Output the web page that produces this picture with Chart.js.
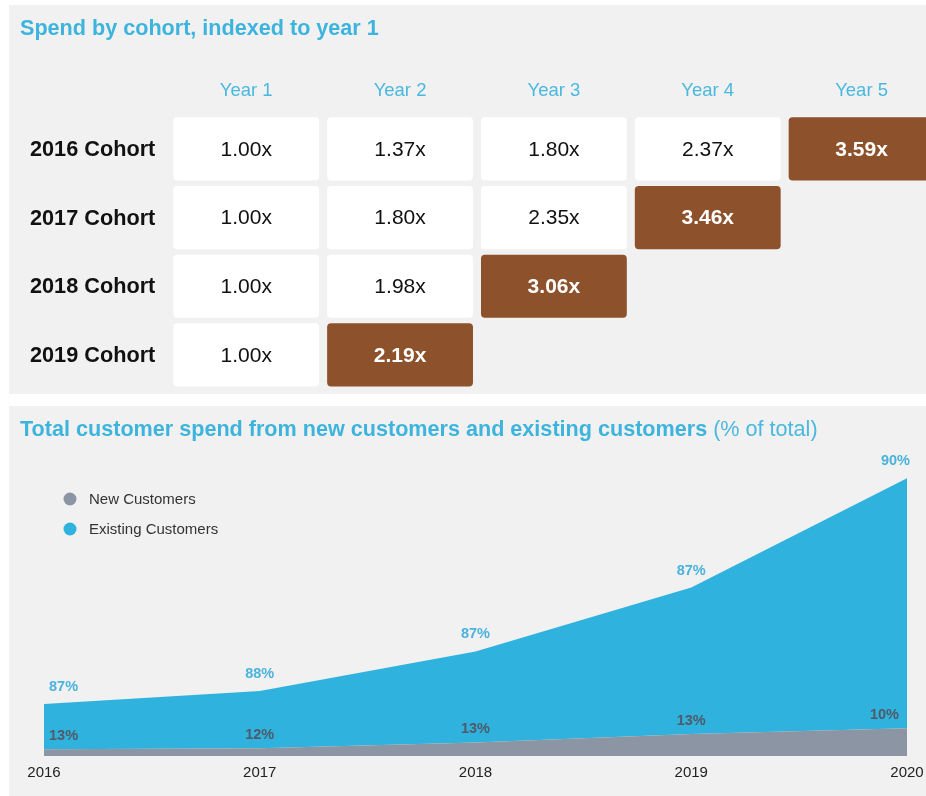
<!DOCTYPE html>
<html>
<head>
<meta charset="utf-8">
<title>Customer cohorts</title>
<script src="https://cdn.jsdelivr.net/npm/chart.js@4"></script>
<style>
  html, body { margin: 0; padding: 0; background: #ffffff; overflow: hidden; width: 926px; height: 796px; }
  .panel { position: absolute; background: #f1f1f1; }
  #cohortPanel { left: 9px; top: 5px; width: 940px; height: 389px; }
  #spendPanel { left: 9px; top: 406px; width: 917px; height: 390px; }
  canvas { display: block; }
</style>
</head>
<body>
<div class="panel" id="cohortPanel"><canvas id="cohortChart" width="940" height="389"></canvas></div>
<div class="panel" id="spendPanel"><canvas id="spendChart" width="917" height="390"></canvas></div>
<script>
// ---- Cohort table data ----
const cohortLabels = ['2016 Cohort', '2017 Cohort', '2018 Cohort', '2019 Cohort'];
const yearLabels = ['Year 1', 'Year 2', 'Year 3', 'Year 4', 'Year 5'];
const cohort2016 = [1.00, 1.37, 1.80, 2.37, 3.59];
const cohort2017 = [1.00, 1.80, 2.35, 3.46];
const cohort2018 = [1.00, 1.98, 3.06];
const cohort2019 = [1.00, 2.19];

// ---- Spend mix data ----
const spendYears = ['2016', '2017', '2018', '2019', '2020'];
const totalSpendIndex = [1.00, 1.25, 2.01, 3.24, 5.34];
const newCustomerShare = [13, 12, 13, 13, 10];
const existingCustomerShare = [87, 88, 87, 87, 90];

const FONT = '"Liberation Sans", Arial, Helvetica, sans-serif';
const BLUE_TEXT = '#3db4dd';
const BROWN = '#8d512b';

// ---------- Cohort table ----------
const cohortRows = [cohort2016, cohort2017, cohort2018, cohort2019];
const CELL_GAP = 0.026;

const cohortDatasets = yearLabels.map((year, col) => ({
  label: year,
  data: cohortRows.map(row => col < row.length ? [col + CELL_GAP, col + 1 - CELL_GAP] : null),
  multiples: cohortRows.map(row => col < row.length ? row[col] : null),
  backgroundColor: cohortRows.map(row => col === row.length - 1 ? BROWN : '#ffffff'),
  borderWidth: 0,
  borderRadius: 4,
  borderSkipped: false,
  categoryPercentage: 1,
  barPercentage: 0.92,
  grouped: false
}));

const cohortText = {
  id: 'cohortText',
  afterDatasetsDraw(chart) {
    const ctx = chart.ctx;
    ctx.save();
    ctx.textAlign = 'center';
    ctx.textBaseline = 'middle';
    chart.data.datasets.forEach((ds, di) => {
      const meta = chart.getDatasetMeta(di);
      meta.data.forEach((el, i) => {
        const v = ds.multiples[i];
        if (v === null) return;
        const p = el.getProps(['x', 'base', 'y'], true);
        const highlighted = ds.backgroundColor[i] === BROWN;
        ctx.font = (highlighted ? 'bold ' : '') + '21px ' + FONT;
        ctx.fillStyle = highlighted ? '#ffffff' : '#111111';
        ctx.fillText(v.toFixed(2) + 'x', (p.x + p.base) / 2, p.y + 1);
      });
    });
    ctx.restore();
  },
  afterDraw(chart) {
    const ctx = chart.ctx;
    const xs = chart.scales.x, ys = chart.scales.y;
    ctx.save();
    // panel title
    ctx.textAlign = 'left';
    ctx.textBaseline = 'middle';
    ctx.font = 'bold 21.6px ' + FONT;
    ctx.fillStyle = BLUE_TEXT;
    ctx.fillText('Spend by cohort, indexed to year 1', 11, 24);
    // column headers
    ctx.textAlign = 'center';
    ctx.font = '18.5px ' + FONT;
    ctx.fillStyle = '#4ab8df';
    yearLabels.forEach((t, j) => ctx.fillText(t, xs.getPixelForValue(j + 0.5), 86));
    // row labels
    ctx.textAlign = 'right';
    ctx.font = 'bold 21.7px ' + FONT;
    ctx.fillStyle = '#111111';
    cohortLabels.forEach((t, i) => ctx.fillText(t, xs.left - 14, ys.getPixelForValue(i) + 1));
    ctx.restore();
  }
};

new Chart(document.getElementById('cohortChart'), {
  type: 'bar',
  data: { labels: cohortLabels, datasets: cohortDatasets },
  options: {
    indexAxis: 'y',
    responsive: false,
    animation: false,
    layout: { padding: { left: 160.3, right: 10.5, top: 109.5, bottom: 4.7 } },
    scales: {
      x: { type: 'linear', min: 0, max: 5, display: false },
      y: { type: 'category', display: false }
    },
    plugins: { legend: { display: false }, tooltip: { enabled: false }, title: { display: false } }
  },
  plugins: [cohortText]
});

// ---------- Spend mix area chart ----------
const newCustomerSpend = totalSpendIndex.map((t, i) => t * newCustomerShare[i] / 100);
const existingCustomerSpend = totalSpendIndex.map((t, i) => t * existingCustomerShare[i] / 100);

const GREY_AREA = '#8b95a4';
const BLUE_AREA = '#2fb2dd';

const spendText = {
  id: 'spendText',
  afterDatasetsDraw(chart) {
    const ctx = chart.ctx;
    const metaNew = chart.getDatasetMeta(0);
    const metaExisting = chart.getDatasetMeta(1);
    const last = spendYears.length - 1;
    ctx.save();
    ctx.textBaseline = 'middle';
    ctx.font = 'bold 14.5px ' + FONT;
    spendYears.forEach((y, i) => {
      const pe = metaExisting.data[i].getProps(['x', 'y'], true);
      const pn = metaNew.data[i].getProps(['x', 'y'], true);
      let align = 'center', dxE = 0, dxN = 0;
      if (i === 0) { align = 'left'; dxE = 5; dxN = 5; }
      if (i === last) { align = 'right'; dxE = 3; dxN = -8; }
      ctx.textAlign = align;
      ctx.fillStyle = '#4ab3dc';
      ctx.fillText(existingCustomerShare[i] + '%', pe.x + dxE, pe.y - 17);
      ctx.fillStyle = '#505a68';
      ctx.fillText(newCustomerShare[i] + '%', pn.x + dxN, pn.y - 13);
    });
    ctx.restore();
  },
  afterDraw(chart) {
    const ctx = chart.ctx;
    ctx.save();
    ctx.textBaseline = 'middle';
    ctx.textAlign = 'left';
    // panel title: bold lead + regular qualifier
    const lead = 'Total customer spend from new customers and existing customers';
    ctx.font = 'bold 21.6px ' + FONT;
    ctx.fillStyle = BLUE_TEXT;
    ctx.fillText(lead, 11, 24);
    const w = ctx.measureText(lead + ' ').width;
    ctx.font = '21.6px ' + FONT;
    ctx.fillStyle = '#4ab8df';
    ctx.fillText('(% of total)', 11 + w, 24);
    // legend
    ctx.font = '15px ' + FONT;
    chart.data.datasets.forEach((ds, i) => {
      const cy = 93 + i * 30;
      ctx.beginPath();
      ctx.arc(61, cy, 6.5, 0, Math.PI * 2);
      ctx.fillStyle = ds.backgroundColor;
      ctx.fill();
      ctx.fillStyle = '#333333';
      ctx.fillText(ds.label, 80, cy + 1);
    });
    ctx.restore();
  }
};

new Chart(document.getElementById('spendChart'), {
  type: 'line',
  data: {
    labels: spendYears,
    datasets: [
      { label: 'New Customers', data: newCustomerSpend, backgroundColor: GREY_AREA, borderColor: GREY_AREA,
        borderWidth: 0, pointRadius: 0, fill: 'origin', tension: 0 },
      { label: 'Existing Customers', data: existingCustomerSpend, backgroundColor: BLUE_AREA, borderColor: BLUE_AREA,
        borderWidth: 0, pointRadius: 0, fill: '-1', tension: 0 }
    ]
  },
  options: {
    responsive: false,
    animation: false,
    layout: { padding: { left: 35, right: 19, top: 38, bottom: 0 } },
    scales: {
      x: {
        type: 'category',
        offset: false,
        grid: { display: false, drawTicks: false },
        border: { display: false },
        ticks: { color: '#222222', font: { family: FONT, size: 15 }, padding: 8, maxRotation: 0, autoSkip: false },
        afterFit(scale) {
          scale.height = 40;
          scale.paddingLeft = 0;
          scale.paddingRight = 0;
        }
      },
      y: { type: 'linear', stacked: true, min: 0, max: 6, display: false }
    },
    plugins: { legend: { display: false }, tooltip: { enabled: false }, title: { display: false }, filler: { propagate: false } }
  },
  plugins: [spendText]
});
</script>
</body>
</html>
